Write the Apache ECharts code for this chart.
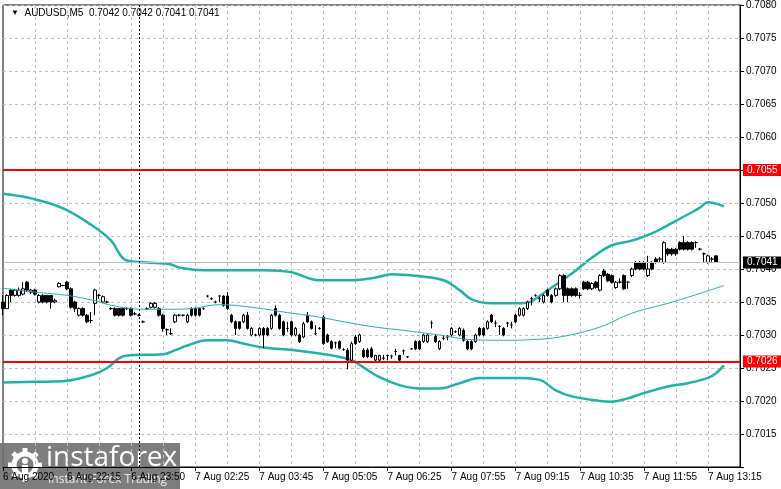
<!DOCTYPE html>
<html>
<head>
<meta charset="utf-8">
<title>AUDUSD M5</title>
<script src="https://cdn.jsdelivr.net/npm/echarts@6/dist/echarts.min.js"></script>
<style>
  html, body { margin: 0; padding: 0; background: #fff; }
  #chart { width: 781px; height: 489px; }
</style>
</head>
<body>
<div id="chart"></div>
<script>
// time axis labels, one every 16 bars (M5)
var timeLabels = ['6 Aug 2020', '6 Aug 22:15', '6 Aug 23:50', '7 Aug 02:25', '7 Aug 03:45', '7 Aug 05:05',
  '7 Aug 06:25', '7 Aug 07:55', '7 Aug 09:15', '7 Aug 10:35', '7 Aug 11:55', '7 Aug 13:15'];
var barCount = 185;

// candles: [open, close, low, high]
var candles = [
  [0.70350,0.70340,0.70330,0.70360],[0.70340,0.70360,0.70340,0.70362],[0.70368,0.70360,0.70350,0.70370],[0.70360,0.70368,0.70358,0.70370],
  [0.70360,0.70368,0.70358,0.70372],[0.70362,0.70370,0.70360,0.70380],[0.70380,0.70368,0.70365,0.70382],[0.70365,0.70368,0.70362,0.70370],
  [0.70368,0.70362,0.70360,0.70370],[0.70350,0.70360,0.70348,0.70362],[0.70360,0.70350,0.70348,0.70362],[0.70360,0.70350,0.70348,0.70360],
  [0.70360,0.70350,0.70340,0.70360],[0.70350,0.70352,0.70348,0.70355],[0.70373,0.70378,0.70372,0.70380],[0.70375,0.70375,0.70374,0.70376],
  [0.70380,0.70370,0.70368,0.70382],[0.70370,0.70342,0.70340,0.70372],[0.70350,0.70340,0.70335,0.70352],[0.70330,0.70340,0.70328,0.70342],
  [0.70340,0.70330,0.70328,0.70342],[0.70330,0.70320,0.70318,0.70332],[0.70322,0.70322,0.70318,0.70335],[0.70348,0.70368,0.70330,0.70370],
  [0.70360,0.70360,0.70355,0.70362],[0.70350,0.70358,0.70348,0.70360],[0.70350,0.70350,0.70348,0.70352],[0.70340,0.70340,0.70338,0.70342],
  [0.70340,0.70330,0.70328,0.70342],[0.70340,0.70330,0.70328,0.70340],[0.70340,0.70330,0.70328,0.70342],[0.70340,0.70340,0.70338,0.70342],
  [0.70340,0.70330,0.70328,0.70342],[0.70332,0.70332,0.70330,0.70335],[0.70330,0.70330,0.70328,0.70332],[0.70320,0.70320,0.70318,0.70322],
  [0.70340,0.70340,0.70338,0.70342],[0.70342,0.70348,0.70340,0.70350],[0.70342,0.70348,0.70340,0.70350],[0.70340,0.70330,0.70328,0.70342],
  [0.70330,0.70310,0.70305,0.70332],[0.70308,0.70308,0.70300,0.70310],[0.70302,0.70302,0.70300,0.70310],[0.70320,0.70330,0.70318,0.70332],
  [0.70330,0.70330,0.70328,0.70332],[0.70330,0.70330,0.70328,0.70330],[0.70320,0.70330,0.70318,0.70332],[0.70340,0.70330,0.70328,0.70342],
  [0.70340,0.70330,0.70328,0.70342],[0.70340,0.70330,0.70328,0.70340],[0.70340,0.70340,0.70338,0.70342],[0.70359,0.70359,0.70357,0.70360],
  [0.70355,0.70355,0.70353,0.70357],[0.70350,0.70350,0.70348,0.70352],[0.70359,0.70359,0.70350,0.70360],[0.70359,0.70345,0.70343,0.70360],
  [0.70359,0.70340,0.70338,0.70365],[0.70330,0.70320,0.70318,0.70332],[0.70320,0.70310,0.70300,0.70322],[0.70320,0.70310,0.70308,0.70320],
  [0.70320,0.70330,0.70318,0.70332],[0.70330,0.70310,0.70308,0.70335],[0.70300,0.70310,0.70298,0.70312],[0.70300,0.70300,0.70298,0.70302],
  [0.70300,0.70310,0.70298,0.70312],[0.70310,0.70300,0.70280,0.70312],[0.70310,0.70300,0.70298,0.70312],[0.70310,0.70330,0.70308,0.70332],
  [0.70340,0.70330,0.70328,0.70345],[0.70330,0.70310,0.70308,0.70332],[0.70320,0.70300,0.70298,0.70322],[0.70310,0.70310,0.70305,0.70320],
  [0.70320,0.70300,0.70298,0.70322],[0.70300,0.70310,0.70298,0.70312],[0.70300,0.70290,0.70288,0.70302],[0.70297,0.70317,0.70295,0.70320],
  [0.70330,0.70320,0.70318,0.70335],[0.70320,0.70310,0.70308,0.70322],[0.70302,0.70302,0.70300,0.70315],[0.70310,0.70310,0.70308,0.70312],
  [0.70327,0.70287,0.70285,0.70330],[0.70300,0.70290,0.70288,0.70302],[0.70290,0.70280,0.70278,0.70292],[0.70288,0.70288,0.70280,0.70290],
  [0.70290,0.70280,0.70278,0.70292],[0.70278,0.70278,0.70276,0.70280],[0.70277,0.70262,0.70248,0.70280],[0.70262,0.70287,0.70260,0.70290],
  [0.70297,0.70287,0.70285,0.70300],[0.70290,0.70300,0.70288,0.70302],[0.70277,0.70267,0.70265,0.70280],[0.70277,0.70267,0.70265,0.70280],
  [0.70279,0.70267,0.70265,0.70282],[0.70262,0.70269,0.70260,0.70270],[0.70262,0.70269,0.70260,0.70270],[0.70265,0.70265,0.70262,0.70270],
  [0.70269,0.70269,0.70262,0.70270],[0.70268,0.70268,0.70264,0.70270],[0.70275,0.70275,0.70269,0.70279],[0.70269,0.70262,0.70260,0.70270],
  [0.70276,0.70276,0.70270,0.70278],[0.70267,0.70267,0.70265,0.70268],[0.70279,0.70279,0.70278,0.70280],[0.70290,0.70279,0.70277,0.70292],
  [0.70290,0.70279,0.70277,0.70292],[0.70290,0.70300,0.70288,0.70302],[0.70290,0.70300,0.70288,0.70302],[0.70318,0.70318,0.70310,0.70322],
  [0.70298,0.70290,0.70288,0.70300],[0.70279,0.70290,0.70277,0.70292],[0.70295,0.70295,0.70292,0.70300],[0.70297,0.70297,0.70292,0.70300],
  [0.70300,0.70310,0.70298,0.70312],[0.70305,0.70305,0.70303,0.70307],[0.70300,0.70310,0.70298,0.70312],[0.70307,0.70292,0.70290,0.70310],
  [0.70290,0.70279,0.70277,0.70292],[0.70290,0.70279,0.70277,0.70292],[0.70290,0.70300,0.70288,0.70302],[0.70310,0.70300,0.70298,0.70312],
  [0.70310,0.70300,0.70298,0.70312],[0.70310,0.70320,0.70308,0.70322],[0.70330,0.70320,0.70318,0.70332],[0.70318,0.70318,0.70312,0.70322],
  [0.70313,0.70313,0.70300,0.70315],[0.70310,0.70300,0.70298,0.70312],[0.70318,0.70318,0.70312,0.70320],[0.70315,0.70315,0.70310,0.70320],
  [0.70330,0.70320,0.70318,0.70332],[0.70330,0.70340,0.70328,0.70342],[0.70330,0.70340,0.70328,0.70342],[0.70340,0.70350,0.70338,0.70352],
  [0.70355,0.70355,0.70345,0.70358],[0.70360,0.70360,0.70358,0.70362],[0.70355,0.70355,0.70350,0.70358],[0.70350,0.70360,0.70348,0.70362],
  [0.70368,0.70360,0.70358,0.70370],[0.70360,0.70350,0.70348,0.70362],[0.70360,0.70370,0.70358,0.70372],[0.70370,0.70390,0.70368,0.70392],
  [0.70390,0.70360,0.70350,0.70392],[0.70370,0.70360,0.70350,0.70372],[0.70370,0.70360,0.70358,0.70372],[0.70370,0.70360,0.70358,0.70372],
  [0.70360,0.70360,0.70355,0.70365],[0.70380,0.70370,0.70368,0.70382],[0.70380,0.70370,0.70368,0.70382],[0.70370,0.70378,0.70368,0.70380],
  [0.70380,0.70372,0.70370,0.70382],[0.70368,0.70390,0.70366,0.70392],[0.70397,0.70390,0.70388,0.70400],[0.70392,0.70382,0.70380,0.70394],
  [0.70390,0.70380,0.70378,0.70392],[0.70372,0.70380,0.70370,0.70382],[0.70380,0.70380,0.70378,0.70386],[0.70390,0.70370,0.70368,0.70392],
  [0.70380,0.70380,0.70370,0.70382],[0.70390,0.70400,0.70388,0.70402],[0.70410,0.70400,0.70398,0.70412],[0.70410,0.70400,0.70398,0.70412],
  [0.70410,0.70400,0.70398,0.70412],[0.70390,0.70400,0.70388,0.70420],[0.70410,0.70400,0.70398,0.70412],[0.70415,0.70410,0.70408,0.70418],
  [0.70415,0.70415,0.70410,0.70418],[0.70410,0.70440,0.70408,0.70442],[0.70430,0.70423,0.70420,0.70432],[0.70430,0.70423,0.70420,0.70432],
  [0.70430,0.70423,0.70420,0.70432],[0.70440,0.70430,0.70428,0.70442],[0.70440,0.70430,0.70428,0.70450],[0.70440,0.70430,0.70428,0.70442],
  [0.70440,0.70430,0.70428,0.70442],[0.70440,0.70440,0.70432,0.70442],[0.70430,0.70430,0.70428,0.70432],[0.70423,0.70423,0.70410,0.70425],
  [0.70410,0.70420,0.70408,0.70422],[0.70415,0.70415,0.70410,0.70418],[0.70420,0.70410,0.70410,0.70420]
];

// bollinger bands (20) and middle line, read as [bar, price]
var upperBand = [[0,0.70514],[7,0.70507],[15,0.70492],[22,0.70467],[27,0.70443],[30,0.70416],[33,0.70411],[41,0.70408],
  [45,0.70401],[50,0.70398],[56,0.70398],[65,0.70398],[72,0.70395],[79,0.70383],[87,0.70383],[93,0.70387],[97,0.70392],
  [104,0.70389],[110,0.70383],[114,0.70368],[117,0.70354],[122,0.70348],[127,0.70348],[131,0.70349],[133,0.70355],
  [137,0.70372],[142,0.70393],[147,0.70417],[152,0.70436],[157,0.70443],[162,0.70454],[165,0.70463],[168,0.70473],
  [172,0.70486],[174,0.70493],[176,0.70501],[178,0.70499],[180,0.70495]];
var lowerBand = [[0,0.70228],[8,0.70229],[15,0.70230],[22,0.70239],[26,0.70250],[29,0.70265],[31,0.70269],[40,0.70271],
  [43,0.70277],[46,0.70284],[51,0.70292],[56,0.70292],[60,0.70287],[65,0.70281],[71,0.70278],[79,0.70272],[83,0.70268],
  [87,0.70262],[90,0.70251],[94,0.70236],[99,0.70224],[104,0.70219],[109,0.70219],[114,0.70227],[119,0.70235],[129,0.70235],
  [134,0.70232],[138,0.70216],[142,0.70207],[149,0.70200],[152,0.70199],[156,0.70204],[160,0.70212],[166,0.70222],
  [171,0.70227],[176,0.70235],[178,0.70242],[180,0.70254]];
var midBand = [[0,0.70371],[8,0.70365],[16,0.70360],[23,0.70352],[27,0.70345],[35,0.70339],[41,0.70339],[47,0.70340],
  [54,0.70346],[62,0.70342],[71,0.70334],[79,0.70327],[86,0.70319],[93,0.70312],[100,0.70307],[109,0.70300],[117,0.70293],
  [125,0.70292],[132,0.70293],[139,0.70297],[149,0.70312],[157,0.70333],[166,0.70348],[174,0.70363],[180,0.70375]];

var levels = [0.7055, 0.7026];   // red support / resistance
var bidPrice = 0.7041;
var cursorBar = 34;
var titleText = 'AUDUSD,M5  0.7042 0.7042 0.7041 0.7041';

var categories = [];
for (var k = 0; k < barCount; k++) {
  categories.push(k % 16 === 0 && timeLabels[k / 16] ? timeLabels[k / 16] : String(k));
}

var font = 'Liberation Sans, Arial, sans-serif';
var teal = '#20b2aa';
var lastBar = barCount - 1;

// horizontal price lines drawn as markLine segments across the whole plot
function hLine(v, color, width, bg) {
  return [
    { coord: [0, v], lineStyle: { color: color, width: width, type: 'solid' },
      label: { show: true, formatter: v.toFixed(4), backgroundColor: bg, color: '#fff' } },
    { coord: [lastBar, v] }
  ];
}
var priceLines = levels.map(function (v) { return hLine(v, '#ff0000', 2, '#ff0000'); });
priceLines.unshift(hLine(bidPrice, '#c0c0c0', 1, '#000'));
priceLines.push({
  xAxis: cursorBar,
  lineStyle: { color: '#000', width: 1, type: [2, 2] },
  label: { show: false }
});

// logo gear teeth
var gear = [];
for (var t = 0; t < 8; t++) {
  gear.push({
    type: 'rect', shape: { x: -2.5, y: -17, width: 5, height: 7 },
    x: 25, y: 465, rotation: t * Math.PI / 4, style: { fill: '#fff' }
  });
}

var chart = echarts.init(document.getElementById('chart'), null, { renderer: 'canvas' });
chart.setOption({
  animation: false,
  backgroundColor: '#fff',
  title: {
    text: '{a|▼}  ' + titleText, left: 6, top: 3,
    textStyle: { fontSize: 10, fontWeight: 'normal', color: '#000', fontFamily: font,
      rich: { a: { fontSize: 8, color: '#000' } } }
  },
  grid: { left: 3, right: 41, top: 4, bottom: 22, show: true, borderColor: '#000', borderWidth: 1 },
  xAxis: {
    type: 'category', data: categories, boundaryGap: false,
    axisLine: { lineStyle: { color: '#000' } },
    axisTick: { interval: function (i) { return i % 16 === 0; }, length: 4, lineStyle: { color: '#000' } },
    axisLabel: {
      interval: function (i) { return i % 16 === 0; },
      align: 'left', margin: 5, color: '#000', fontSize: 10, fontFamily: font
    },
    splitLine: { show: true, interval: function (i) { return i % 8 === 0 && i > 0; },
      lineStyle: { color: '#c0c0c0', type: [3, 3] } }
  },
  yAxis: {
    type: 'value', position: 'right', min: 0.7010, max: 0.7080, interval: 0.0005,
    axisLine: { show: true, lineStyle: { color: '#000' } },
    axisTick: { show: true, length: 4, lineStyle: { color: '#000' } },
    axisLabel: {
      margin: 6, color: '#000', fontSize: 10, fontFamily: font,
      formatter: function (v) { return Math.abs(v - 0.7010) < 1e-7 ? '' : v.toFixed(4); }
    },
    splitLine: { show: true, lineStyle: { color: '#c0c0c0', type: [3, 3] } }
  },
  series: [
    { type: 'line', data: upperBand, smooth: 0.4, symbol: 'none', lineStyle: { color: teal, width: 2.5 }, z: 3 },
    { type: 'line', data: lowerBand, smooth: 0.4, symbol: 'none', lineStyle: { color: teal, width: 2.5 }, z: 3 },
    {
      type: 'line', data: midBand, smooth: 0.4, symbol: 'none', lineStyle: { color: teal, width: 1 }, z: 5,
      markLine: {
        silent: true, symbol: 'none', animation: false,
        label: { position: 'end', distance: 3, fontSize: 10, fontFamily: font, padding: [1, 4, 1, 4] },
        data: priceLines
      }
    },
    {
      type: 'candlestick', data: candles, barWidth: 3, z: 4,
      itemStyle: { color: '#fff', color0: '#000', borderColor: '#000', borderColor0: '#000', borderWidth: 1 }
    }
  ],
  graphic: [{
    type: 'group', z: 100, children: [
      { type: 'rect', shape: { x: 0, y: 443, width: 180, height: 46 }, style: { fill: 'rgba(112,112,112,0.9)' } },
      { type: 'circle', shape: { cx: 25, cy: 465, r: 11 }, style: { fill: 'none', stroke: '#fff', lineWidth: 5 } },
      { type: 'circle', shape: { cx: 25, cy: 461, r: 3 }, style: { fill: '#fff' } },
      { type: 'rect', shape: { x: 22, y: 465, width: 6, height: 9 }, style: { fill: '#fff' } },
      { type: 'text', x: 46, y: 444, style: { text: 'instaforex', fill: '#fff', fontSize: 28, fontFamily: 'Open Sans, Lato, sans-serif' } },
      { type: 'text', x: 48, y: 474, style: { text: 'Instant Forex Trading', fill: '#ececec', fontSize: 12, fontFamily: 'Open Sans, sans-serif' } }
    ].concat(gear)
  }]
});
</script>
</body>
</html>
